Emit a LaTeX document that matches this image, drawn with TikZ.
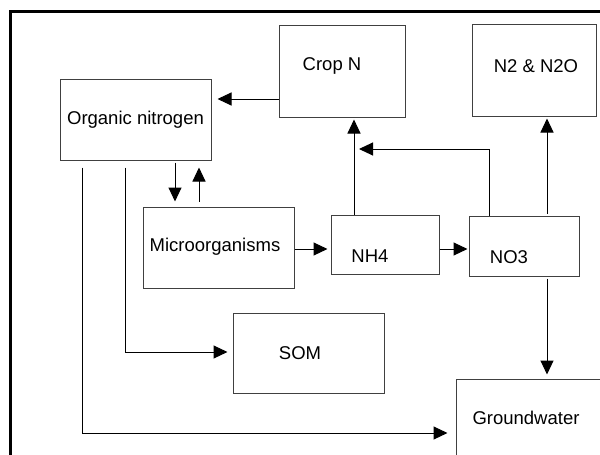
\documentclass[tikz,border=0pt]{standalone}
\usepackage{fontspec}
\setmainfont{Liberation Sans}
\usetikzlibrary{arrows.meta,calc}
\begin{document}
\begin{tikzpicture}[x=1pt,y=-1pt,
  box/.style={draw=black!75, line width=1pt, rectangle, inner sep=0pt},
  txt/.style={inner sep=0pt, font=\fontsize{18.5}{22}\selectfont},
  arr/.style={draw=black, line width=1pt, -{Triangle[length=14pt,width=13pt]}},
  ln/.style={draw=black, line width=1pt},
  frame/.style={draw=black, line width=3pt}]
\useasboundingbox (0,0) rectangle (600,455);
\clip (0,0) rectangle (600,455);
\draw[frame] (10,11) rectangle (640,500);
% boxes
\node[box, minimum width=151pt, minimum height=81pt, txt] (org) at (135.5,119.5) {Organic nitrogen};
\node[box, minimum width=126pt, minimum height=92pt] (crop) at (342,71) {};
\node[txt] (cropt) at (332,66) {Crop N};
\node[box, minimum width=124pt, minimum height=92pt] (n2) at (534,70) {};
\node[txt] (n2t) at (536,66) {N2 \& N2O};
\node[box, minimum width=151pt, minimum height=81pt] (micro) at (218.5,247.5) {};
\node[txt] (microt) at (215,247) {Microorganisms};
\node[box, minimum width=108pt, minimum height=59pt] (nh4) at (385,244.5) {};
\node[txt] (nh4t) at (370,256) {NH4};
\node[box, minimum width=110pt, minimum height=60pt] (no3) at (524,246) {};
\node[txt] (no3t) at (509,257) {NO3};
\node[box, minimum width=151pt, minimum height=80pt] (som) at (308.5,353) {};
\node[txt] (somt) at (300,353) {SOM};
\node[box, minimum width=180pt, minimum height=120pt] (gw) at (546,439) {};
\node[txt] (gwt) at (526,418) {Groundwater};
% connectors
\draw[arr, shorten >=6pt] (crop.west |- 0,99) -- (org.east |- 0,99);
\draw[arr, shorten <=2pt, shorten >=5pt] (org.south -| 175,0) -- (micro.north -| 175,0);
\draw[arr, shorten <=5pt, shorten >=7pt] (micro.north -| 199,0) -- (org.south -| 199,0);
\coordinate (c1) at (82,433);
\coordinate (c2) at (125,352);
\draw[arr, shorten <=7pt, shorten >=8pt] (org.south -| c1) -- (c1) -- (gw.west |- c1);
\draw[arr, shorten <=7pt, shorten >=5pt] (org.south -| c2) -- (c2) -- (som.west |- c2);
\draw[arr, shorten >=3pt] (micro.east |- 0,249) -- (nh4.west |- 0,249);
\draw[arr, shorten >=1pt] (nh4.east |- 0,249) -- (no3.west |- 0,249);
\draw[arr, shorten >=2pt] (nh4.north -| 354,0) -- (crop.south -| 354,0);
\coordinate (c3) at (489,149);
\coordinate (c4) at (354,149);
\draw[arr, shorten >=5pt] (no3.north -| c3) -- (c3) -- (c4);
\draw[arr, shorten <=2pt, shorten >=2pt] (no3.north -| 547,0) -- (n2.south -| 547,0);
\draw[arr, shorten <=2pt, shorten >=4pt] (no3.south -| 547,0) -- (gw.north -| 547,0);
\end{tikzpicture}
\end{document}
